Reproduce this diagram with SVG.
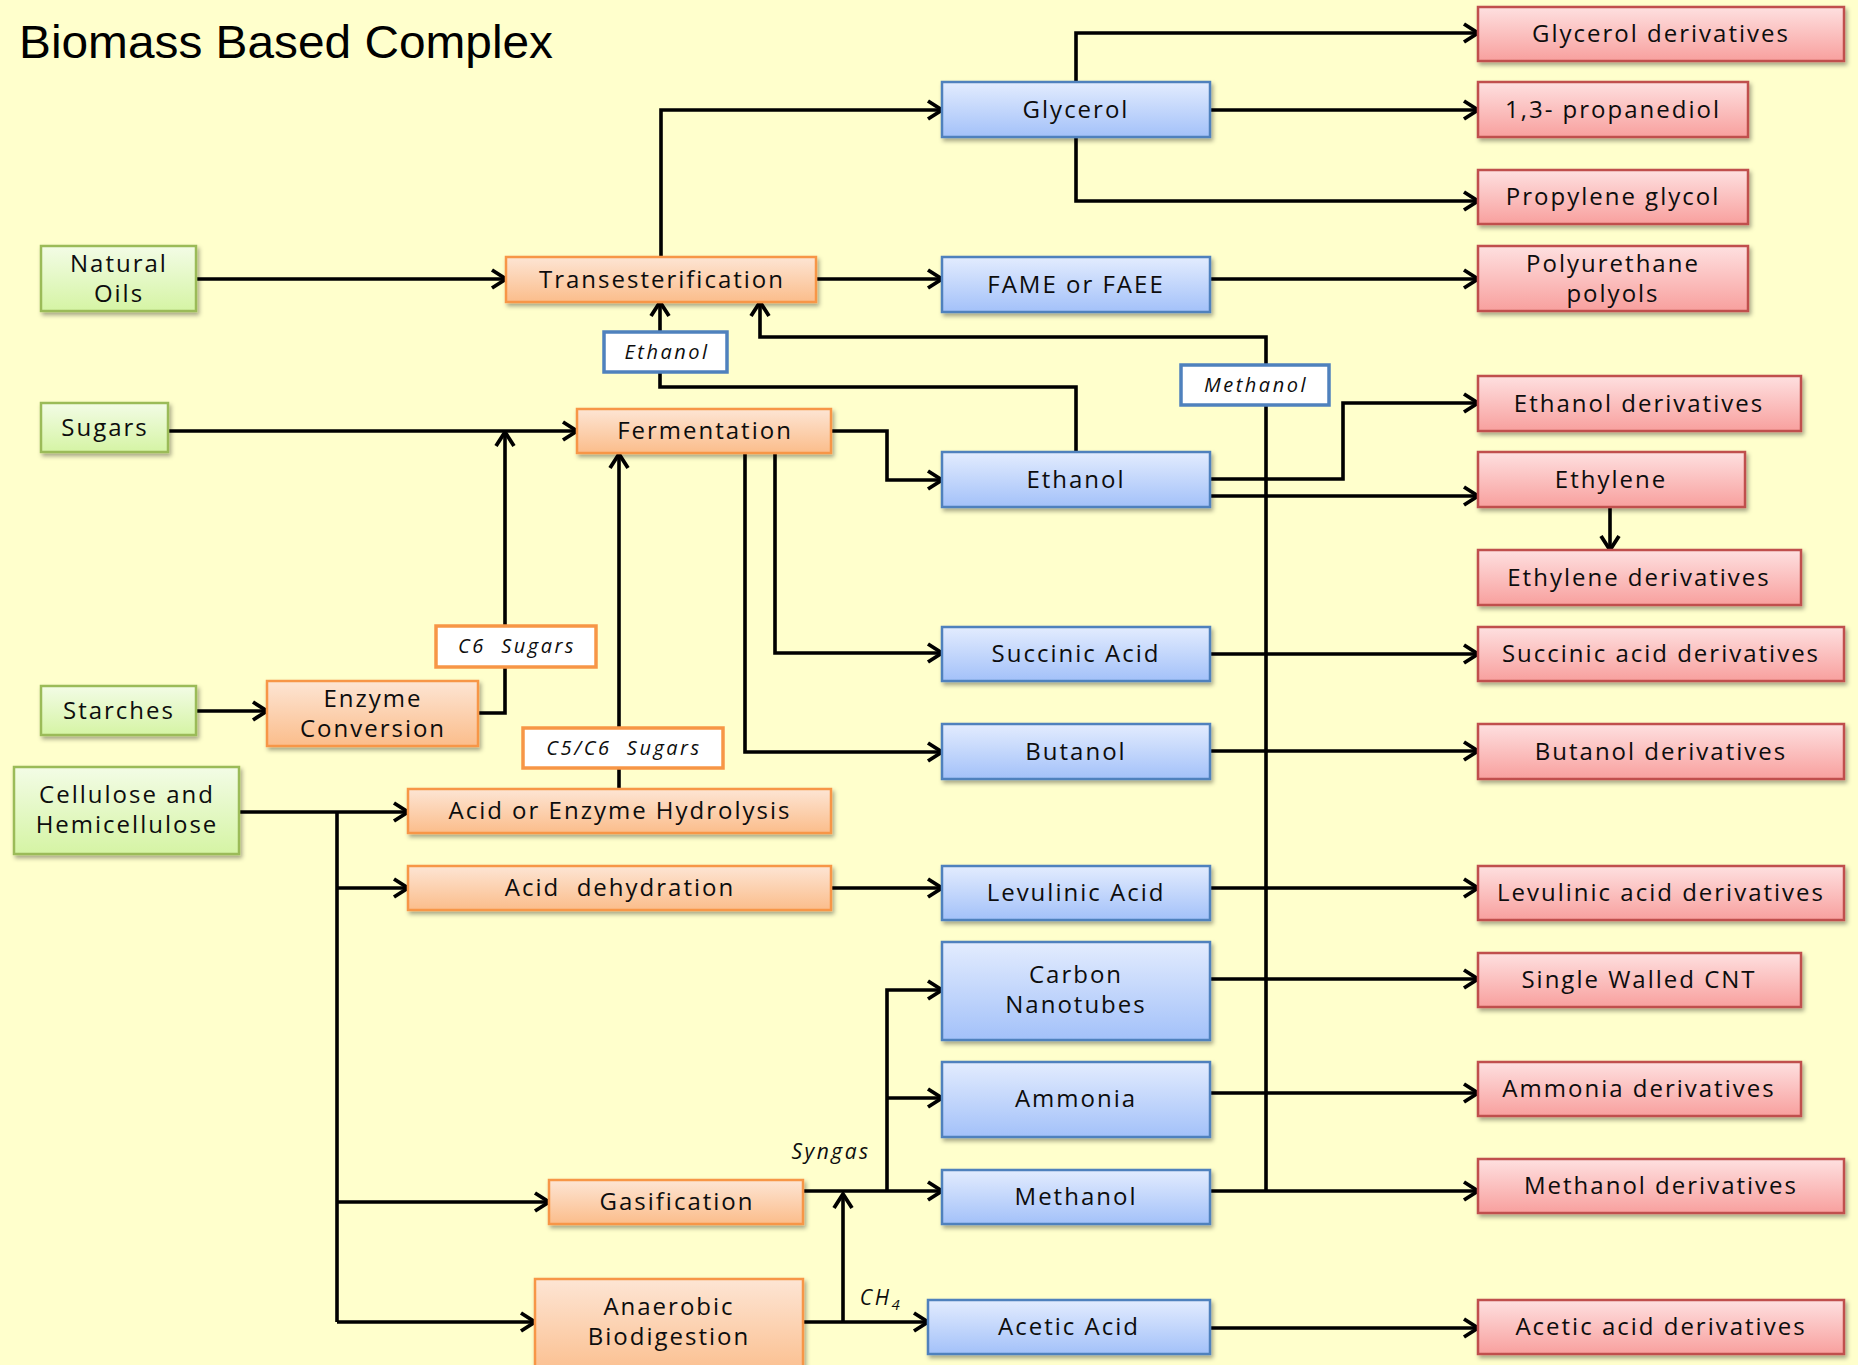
<svg xmlns="http://www.w3.org/2000/svg" width="1858" height="1365" viewBox="0 0 1858 1365">
<defs>
<linearGradient id="gGreen" x1="0" y1="0" x2="0" y2="1"><stop offset="0" stop-color="#f3fce6"/><stop offset="1" stop-color="#d5f4a4"/></linearGradient>
<linearGradient id="gOrange" x1="0" y1="0" x2="0" y2="1"><stop offset="0" stop-color="#fde5d4"/><stop offset="1" stop-color="#fbbd8b"/></linearGradient>
<linearGradient id="gBlue" x1="0" y1="0" x2="0" y2="1"><stop offset="0" stop-color="#e3ecfe"/><stop offset="1" stop-color="#a3c1f9"/></linearGradient>
<linearGradient id="gRed" x1="0" y1="0" x2="0" y2="1"><stop offset="0" stop-color="#fee0e0"/><stop offset="1" stop-color="#f8a09e"/></linearGradient>
<filter id="sh" x="-10%" y="-20%" width="120%" height="150%"><feDropShadow dx="2" dy="3" stdDeviation="2" flood-color="#000" flood-opacity="0.35"/></filter>
<marker id="arr" markerUnits="userSpaceOnUse" viewBox="0 0 18 22" markerWidth="18" markerHeight="22" refX="16" refY="11" orient="auto"><path d="M2,2 L16,11 L2,20" fill="none" stroke="#000" stroke-width="3.8" stroke-linejoin="miter"/></marker>
</defs>
<style>
.g{fill:url(#gGreen);stroke:#9bbb59;stroke-width:2.5}
.o{fill:url(#gOrange);stroke:#f79646;stroke-width:2.5}
.b{fill:url(#gBlue);stroke:#4f81bd;stroke-width:2.5}
.r{fill:url(#gRed);stroke:#c0504d;stroke-width:2.5}
.lb{fill:#fff;stroke:#4f81bd;stroke-width:3.5}
.lo{fill:#fff;stroke:#f79646;stroke-width:3.5}
.t{font-family:"Open Sans","Noto Sans",sans-serif;font-size:24px;letter-spacing:2px;text-anchor:middle;fill:#0d0d0d}
.i{font-family:"Open Sans","Noto Sans",sans-serif;font-size:20px;letter-spacing:2.5px;font-style:italic;text-anchor:middle;fill:#0d0d0d}
.c{fill:none;stroke:#000;stroke-width:3.6}
.a{marker-end:url(#arr)}
</style>
<rect width="1858" height="1365" fill="#ffffcc"/>
<text x="19" y="58" font-family="Liberation Sans, Arial, sans-serif" font-size="46" textLength="534" lengthAdjust="spacingAndGlyphs" fill="#000">Biomass Based Complex</text>

<g id="connectors">
<path class="c a" d="M196,279 H506"/>
<path class="c a" d="M661,257 V110 H942"/>
<path class="c a" d="M816,279 H942"/>
<path class="c a" d="M1076,82 V33 H1478"/>
<path class="c a" d="M1210,110 H1478"/>
<path class="c a" d="M1076,137 V201 H1478"/>
<path class="c a" d="M1210,279 H1478"/>
<path class="c a" d="M1076,452 V387 H660 V302"/>
<path class="c a" d="M1266,1191 V337 H760 V302"/>
<path class="c a" d="M168,431 H577"/>
<path class="c a" d="M478,713 H505 V432"/>
<path class="c a" d="M196,711 H267"/>
<path class="c a" d="M619,789 V454"/>
<path class="c a" d="M239,812 H408"/>
<path class="c" d="M337,812 V1322"/>
<path class="c a" d="M337,888 H408"/>
<path class="c a" d="M337,1202 H549"/>
<path class="c a" d="M337,1322 H535"/>
<path class="c a" d="M831,431 H887 V480 H942"/>
<path class="c a" d="M775,453 V653 H942"/>
<path class="c a" d="M745,453 V752 H942"/>
<path class="c a" d="M1210,479 H1343 V403 H1478"/>
<path class="c a" d="M1210,496 H1478"/>
<path class="c a" d="M1610,507 V550"/>
<path class="c a" d="M1210,654 H1478"/>
<path class="c a" d="M1210,751 H1478"/>
<path class="c a" d="M831,888 H942"/>
<path class="c a" d="M1210,888 H1478"/>
<path class="c a" d="M803,1191 H942"/>
<path class="c a" d="M887,1191 V990 H942"/>
<path class="c a" d="M887,1098 H942"/>
<path class="c a" d="M1210,979 H1478"/>
<path class="c a" d="M1210,1093 H1478"/>
<path class="c a" d="M1210,1191 H1478"/>
<path class="c a" d="M803,1322 H928"/>
<path class="c a" d="M843,1322 V1194"/>
<path class="c a" d="M1210,1328 H1478"/>
<text class="i" x="831" y="1159" style="font-size:21px">Syngas</text>
<text class="i" x="881" y="1305" style="font-size:21px">CH<tspan font-size="15" dy="5">4</tspan></text>
</g>

<g id="natural-oils"><rect class="g" x="41" y="246" width="155" height="65" filter="url(#sh)"/><text class="t" x="119" y="272">Natural</text><text class="t" x="119" y="302">Oils</text></g>
<g id="sugars"><rect class="g" x="41" y="403" width="127" height="49" filter="url(#sh)"/><text class="t" x="105" y="436">Sugars</text></g>
<g id="starches"><rect class="g" x="41" y="686" width="155" height="49" filter="url(#sh)"/><text class="t" x="119" y="719">Starches</text></g>
<g id="cellulose"><rect class="g" x="14" y="767" width="225" height="87" filter="url(#sh)"/><text class="t" x="127" y="803">Cellulose and</text><text class="t" x="127" y="833">Hemicellulose</text></g>

<g id="transesterification"><rect class="o" x="506" y="257" width="310" height="45" filter="url(#sh)"/><text class="t" x="662" y="288">Transesterification</text></g>
<g id="fermentation"><rect class="o" x="577" y="409" width="254" height="44" filter="url(#sh)"/><text class="t" x="705" y="439">Fermentation</text></g>
<g id="enzyme-conversion"><rect class="o" x="267" y="681" width="211" height="65" filter="url(#sh)"/><text class="t" x="373" y="707">Enzyme</text><text class="t" x="373" y="737">Conversion</text></g>
<g id="hydrolysis"><rect class="o" x="408" y="789" width="423" height="44" filter="url(#sh)"/><text class="t" x="620" y="819">Acid or Enzyme Hydrolysis</text></g>
<g id="dehydration"><rect class="o" x="408" y="866" width="423" height="44" filter="url(#sh)"/><text class="t" x="620" y="896" xml:space="preserve">Acid  dehydration</text></g>
<g id="gasification"><rect class="o" x="549" y="1180" width="254" height="44" filter="url(#sh)"/><text class="t" x="677" y="1210">Gasification</text></g>
<g id="anaerobic"><rect class="o" x="535" y="1279" width="268" height="100" filter="url(#sh)"/><text class="t" x="669" y="1315">Anaerobic</text><text class="t" x="669" y="1345">Biodigestion</text></g>

<g id="label-ethanol"><rect class="lb" x="604" y="332" width="123" height="40"/><text class="i" x="667" y="359">Ethanol</text></g>
<g id="label-methanol"><rect class="lb" x="1181" y="365" width="148" height="40"/><text class="i" x="1256" y="392">Methanol</text></g>
<g id="label-c6"><rect class="lo" x="436" y="626" width="160" height="41"/><text class="i" x="517" y="653" xml:space="preserve">C6  Sugars</text></g>
<g id="label-c5c6"><rect class="lo" x="523" y="728" width="200" height="40"/><text class="i" x="624" y="755" xml:space="preserve">C5/C6  Sugars</text></g>

<g id="glycerol"><rect class="b" x="942" y="82" width="268" height="55" filter="url(#sh)"/><text class="t" x="1076" y="118">Glycerol</text></g>
<g id="fame"><rect class="b" x="942" y="257" width="268" height="55" filter="url(#sh)"/><text class="t" x="1076" y="293">FAME or FAEE</text></g>
<g id="ethanol"><rect class="b" x="942" y="452" width="268" height="55" filter="url(#sh)"/><text class="t" x="1076" y="488">Ethanol</text></g>
<g id="succinic-acid"><rect class="b" x="942" y="627" width="268" height="54" filter="url(#sh)"/><text class="t" x="1076" y="662">Succinic Acid</text></g>
<g id="butanol"><rect class="b" x="942" y="724" width="268" height="55" filter="url(#sh)"/><text class="t" x="1076" y="760">Butanol</text></g>
<g id="levulinic-acid"><rect class="b" x="942" y="866" width="268" height="54" filter="url(#sh)"/><text class="t" x="1076" y="901">Levulinic Acid</text></g>
<g id="carbon-nanotubes"><rect class="b" x="942" y="942" width="268" height="98" filter="url(#sh)"/><text class="t" x="1076" y="983">Carbon</text><text class="t" x="1076" y="1013">Nanotubes</text></g>
<g id="ammonia"><rect class="b" x="942" y="1062" width="268" height="75" filter="url(#sh)"/><text class="t" x="1076" y="1107">Ammonia</text></g>
<g id="methanol"><rect class="b" x="942" y="1170" width="268" height="54" filter="url(#sh)"/><text class="t" x="1076" y="1205">Methanol</text></g>
<g id="acetic-acid"><rect class="b" x="928" y="1300" width="282" height="54" filter="url(#sh)"/><text class="t" x="1069" y="1335">Acetic Acid</text></g>

<g id="glycerol-derivatives"><rect class="r" x="1478" y="7" width="366" height="54" filter="url(#sh)"/><text class="t" x="1661" y="42">Glycerol derivatives</text></g>
<g id="propanediol"><rect class="r" x="1478" y="82" width="270" height="55" filter="url(#sh)"/><text class="t" x="1613" y="118">1,3- propanediol</text></g>
<g id="propylene-glycol"><rect class="r" x="1478" y="170" width="270" height="54" filter="url(#sh)"/><text class="t" x="1613" y="205">Propylene glycol</text></g>
<g id="polyurethane"><rect class="r" x="1478" y="246" width="270" height="65" filter="url(#sh)"/><text class="t" x="1613" y="272">Polyurethane</text><text class="t" x="1613" y="302">polyols</text></g>
<g id="ethanol-derivatives"><rect class="r" x="1478" y="376" width="323" height="55" filter="url(#sh)"/><text class="t" x="1639" y="412">Ethanol derivatives</text></g>
<g id="ethylene"><rect class="r" x="1478" y="452" width="267" height="55" filter="url(#sh)"/><text class="t" x="1611" y="488">Ethylene</text></g>
<g id="ethylene-derivatives"><rect class="r" x="1478" y="550" width="323" height="55" filter="url(#sh)"/><text class="t" x="1639" y="586">Ethylene derivatives</text></g>
<g id="succinic-derivatives"><rect class="r" x="1478" y="627" width="366" height="54" filter="url(#sh)"/><text class="t" x="1661" y="662">Succinic acid derivatives</text></g>
<g id="butanol-derivatives"><rect class="r" x="1478" y="724" width="366" height="55" filter="url(#sh)"/><text class="t" x="1661" y="760">Butanol derivatives</text></g>
<g id="levulinic-derivatives"><rect class="r" x="1478" y="866" width="366" height="54" filter="url(#sh)"/><text class="t" x="1661" y="901">Levulinic acid derivatives</text></g>
<g id="swcnt"><rect class="r" x="1478" y="953" width="323" height="54" filter="url(#sh)"/><text class="t" x="1639" y="988">Single Walled CNT</text></g>
<g id="ammonia-derivatives"><rect class="r" x="1478" y="1062" width="323" height="54" filter="url(#sh)"/><text class="t" x="1639" y="1097">Ammonia derivatives</text></g>
<g id="methanol-derivatives"><rect class="r" x="1478" y="1159" width="366" height="54" filter="url(#sh)"/><text class="t" x="1661" y="1194">Methanol derivatives</text></g>
<g id="acetic-derivatives"><rect class="r" x="1478" y="1300" width="366" height="54" filter="url(#sh)"/><text class="t" x="1661" y="1335">Acetic acid derivatives</text></g>
</svg>
